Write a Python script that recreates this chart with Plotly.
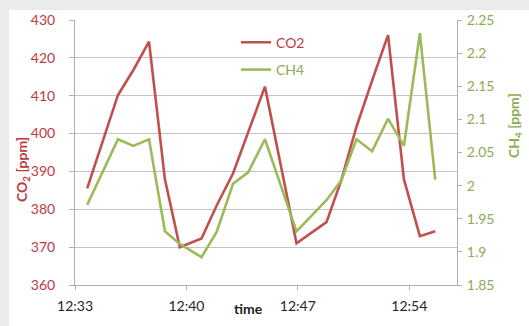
import plotly.graph_objects as go

times = ["12:33:46", "12:35:42", "12:36:40", "12:37:39", "12:38:39", "12:39:35",
         "12:40:57", "12:41:54", "12:42:56", "12:43:53", "12:44:56", "12:46:55",
         "12:48:48", "12:49:44", "12:50:41", "12:51:40", "12:52:40", "12:53:40",
         "12:54:40", "12:55:38"]
co2 = [385.5, 410.2, 416.8, 424.3, 387.9, 370.0, 372.3, 381.0, 389.5, 400.5,
       412.4, 371.0, 376.6, 387.7, 401.8, 414.0, 426.0, 387.9, 372.9, 374.2]
ch4 = [1.971, 2.070, 2.060, 2.070, 1.931, 1.912, 1.892, 1.930, 2.003, 2.020,
       2.070, 1.931, 1.978, 2.008, 2.070, 2.052, 2.101, 2.060, 2.230, 2.009]
day = "2020-01-01 "
x = [day + t for t in times]

RED = "#c0504d"
RED_T = "#c0393f"
GREEN = "#9bbb59"
GREEN_T = "#8eab55"
FONT = "Lato, sans-serif"
FS = 14

fig = go.Figure()
fig.add_trace(go.Scatter(x=x, y=co2, name="CO2", mode="lines", showlegend=True,
                         line=dict(color=RED, width=2.6), legend="legend"))
fig.add_trace(go.Scatter(x=x, y=ch4, name="CH4", mode="lines", yaxis="y2", showlegend=True,
                         line=dict(color=GREEN, width=2.6), legend="legend2"))

W, H = 529, 326
L, R, T, B = 75, 72, 20, 41
pw, ph = W - L - R, H - T - B

def px(xp):
    return (xp - L) / pw

def py(yp):
    return (H - B - yp) / ph

fig.update_layout(
    width=W, height=H,
    margin=dict(l=L, r=R, t=T, b=B, autoexpand=False),
    showlegend=True,
    paper_bgcolor="#ebebeb",
    plot_bgcolor="white",
    font=dict(family=FONT, size=FS, color="#333333"),
    xaxis=dict(type="date", range=[day + "12:33:00", day + "12:57:00"],
               tick0=day + "12:33:00", dtick=7 * 60 * 1000, tickformat="%H:%M",
               automargin=False,
               showgrid=False, showline=True, linecolor="#b0b0b0", linewidth=1,
               ticks="outside", ticklen=4, tickcolor="#b0b0b0",
               ticklabelstandoff=4,
               tickfont=dict(family=FONT, size=FS, color="#262626"),
               zeroline=False),
    yaxis=dict(range=[360, 430], dtick=10, showgrid=True, gridcolor="#c4c4c4",
               automargin=False,
               gridwidth=1, showline=True, linecolor="#b0b0b0", linewidth=1,
               ticks="outside", ticklen=5, tickcolor="#b0b0b0",
               ticklabelstandoff=11,
               tickfont=dict(family=FONT, size=FS, color=RED_T), zeroline=False),
    yaxis2=dict(range=[1.85, 2.25], dtick=0.05, overlaying="y", side="right",
                automargin=False,
                showgrid=False, showline=True, linecolor="#b0b0b0", linewidth=1,
                ticks="outside", ticklen=4, tickcolor="#b0b0b0",
                ticklabelstandoff=2,
                tickfont=dict(family=FONT, size=FS, color=GREEN_T), zeroline=False),
    legend=dict(x=px(236), y=py(42.7), xanchor="left", yanchor="middle",
                bgcolor="rgba(0,0,0,0)", font=dict(family=FONT, size=FS, color=RED_T)),
    legend2=dict(x=px(236), y=py(70), xanchor="left", yanchor="middle",
                 bgcolor="rgba(0,0,0,0)", font=dict(family=FONT, size=FS, color=GREEN_T)),
    shapes=[dict(type="rect", xref="paper", yref="paper", layer="below",
                 x0=px(9), x1=px(W + 5), y0=py(H + 5), y1=py(10),
                 fillcolor="white", line=dict(width=0))],
    annotations=[
        dict(text="<b>CO<sub>2</sub> [ppm]</b>", xref="paper", yref="paper",
             x=px(22), y=py(170), xanchor="center", yanchor="middle",
             textangle=-90, showarrow=False,
             font=dict(family=FONT, size=FS, color=RED_T)),
        dict(text="<b>CH<sub>4</sub> [ppm]</b>", xref="paper", yref="paper",
             x=px(514), y=py(126), xanchor="center", yanchor="middle",
             textangle=-90, showarrow=False,
             font=dict(family=FONT, size=FS, color=GREEN_T)),
        dict(text="<b>time</b>", xref="paper", yref="paper",
             x=px(248), y=py(308), xanchor="center", yanchor="middle",
             showarrow=False,
             font=dict(family=FONT, size=FS, color="#222222")),
    ],
)

fig.write_html("out.html",
               config={"displayModeBar": False},
               post_script="document.body.style.margin='0';document.body.style.overflow='hidden';")
